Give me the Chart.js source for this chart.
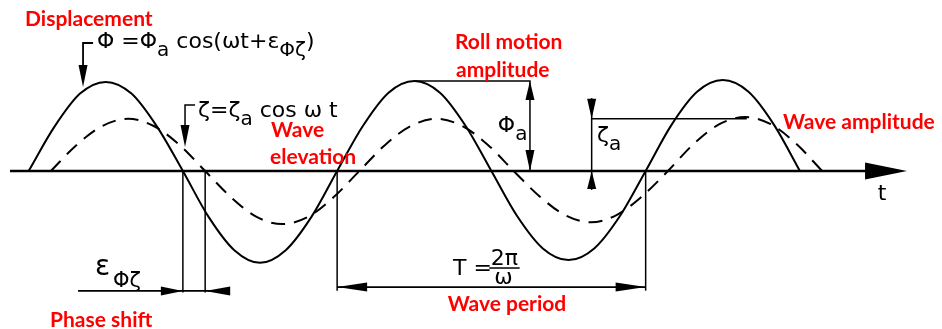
<!DOCTYPE html>
<html>
<head>
<meta charset="utf-8">
<title>Roll motion and wave elevation</title>
<script src="https://cdn.jsdelivr.net/npm/chart.js@4.4.1/dist/chart.umd.min.js"></script>
<style>
  html, body { margin: 0; padding: 0; background: #fff; }
  #wrap { width: 942px; height: 329px; }
</style>
</head>
<body>
<div id="wrap"><canvas id="chart" width="942" height="329"></canvas></div>
<script>
// --- DATA ---
// phase ωt in degrees, displacement in units of the roll amplitude Φa
const rollPhase = [-116, -86, -56, -26, 4, 34, 64, 94, 124, 154, 184, 214, 244, 274, 304, 334,
                   364, 394, 424, 454, 484, 514, 544, 574, 604, 634, 664, 694, 724, 754, 784];
const rollDisp = [0, 0.49, 0.86, 0.99, 0.86, 0.49, 0, -0.51, -0.88, -1.02, -0.88, -0.51, 0,
                  0.5, 0.87, 1.0, 0.87, 0.5, 0, -0.5, -0.86, -0.99, -0.86, -0.5, 0,
                  0.51, 0.88, 1.01, 0.88, 0.51, 0];

const wavePhase = [-90, -60, -30, 0, 30, 60, 90, 120, 150, 180, 210, 240, 270, 300, 330, 360,
                   390, 420, 450, 480, 510, 540, 570, 600, 630, 660, 690, 720, 750, 780, 810];
const waveElev = [0, 0.29, 0.5, 0.58, 0.5, 0.29, 0, -0.29, -0.51, -0.59, -0.51, -0.29, 0,
                  0.29, 0.5, 0.58, 0.5, 0.29, 0, -0.28, -0.49, -0.57, -0.49, -0.28, 0,
                  0.3, 0.52, 0.6, 0.52, 0.3, 0];

const phaseLag = 26;        // ε_Φζ, degrees
const rollAmp = 1.0;        // Φa
const waveAmp = 0.58;       // ζa

// --- STYLE ---
const RED = '#ff0000';
const INK = '#000000';
const RED_FONT = '700 21px Lato';
const MATH_FONT = '22px "DejaVu Sans"';
const SUB_FONT = '20px "DejaVu Sans"';

const toPoints = (xs, ys) => xs.map((x, i) => ({ x, y: ys[i] }));

// filled arrow head, tip at (tx, ty), pointing along (dx, dy)
const arrowHead = (ctx, tx, ty, dx, dy, len, half) => {
    const bx = tx - dx * len, by = ty - dy * len;
    ctx.beginPath();
    ctx.moveTo(tx, ty);
    ctx.lineTo(bx - dy * half, by + dx * half);
    ctx.lineTo(bx + dy * half, by - dx * half);
    ctx.closePath();
    ctx.fill();
};

const line = (ctx, pts, width) => {
    ctx.lineWidth = width;
    ctx.beginPath();
    ctx.moveTo(pts[0][0], pts[0][1]);
    pts.slice(1).forEach(p => ctx.lineTo(p[0], p[1]));
    ctx.stroke();
};

// text made of runs, strings are normal and {s: ...} are subscripts
const drawRuns = (ctx, x, y, runs) => {
    let cx = x;
    runs.forEach(r => {
        const sub = typeof r !== 'string';
        ctx.font = sub ? SUB_FONT : MATH_FONT;
        const t = sub ? r.s : r;
        ctx.fillText(t, cx, y + (sub ? 8 : 0));
        cx += ctx.measureText(t).width;
    });
};

const annotations = {
    id: 'annotations',
    afterDatasetsDraw(chart) {
        const { ctx } = chart;
        const X = v => chart.scales.x.getPixelForValue(v);
        const Y = v => chart.scales.y.getPixelForValue(v);
        ctx.save();
        ctx.strokeStyle = INK;
        ctx.fillStyle = INK;
        ctx.lineCap = 'butt';

        // time axis with arrow
        line(ctx, [[X(-137.7), Y(0)], [X(870), Y(0)]], 2.5);
        arrowHead(ctx, X(909), Y(0), 1, 0, 42, 8.5);

        // phase shift dimension
        const down1 = 90 - phaseLag, down2 = 90;
        line(ctx, [[X(down1), Y(0)], [X(down1), Y(-1.35)]], 1.5);
        line(ctx, [[X(down2), Y(0)], [X(down2), Y(-1.35)]], 1.5);
        line(ctx, [[X(-58.3), Y(-1.333)], [X(119), Y(-1.333)]], 1.8);
        arrowHead(ctx, X(down1), Y(-1.333), 1, 0, 22, 4.5);
        arrowHead(ctx, X(down2), Y(-1.333), -1, 0, 25, 4.5);

        // wave period dimension
        const up1 = 270 - phaseLag, up2 = 630 - phaseLag;
        line(ctx, [[X(up1), Y(0)], [X(up1), Y(-1.33)]], 1.5);
        line(ctx, [[X(up2), Y(0)], [X(up2), Y(-1.33)]], 1.5);
        line(ctx, [[X(up1), Y(-1.29)], [X(up2), Y(-1.29)]], 1.8);
        arrowHead(ctx, X(up1), Y(-1.29), -1, 0, 30, 4.5);
        arrowHead(ctx, X(up2), Y(-1.29), 1, 0, 30, 4.5);

        // roll amplitude Φa
        const rollPeak = 360 - phaseLag;
        line(ctx, [[X(rollPeak), Y(rollAmp)], [X(469), Y(rollAmp)], [X(469), Y(0)]], 1.5);
        arrowHead(ctx, X(469), Y(rollAmp), 0, -1, 19, 4.5);
        arrowHead(ctx, X(469), Y(0), 0, 1, 21, 4.5);

        // wave amplitude ζa
        line(ctx, [[X(541), Y(waveAmp)], [X(722), Y(waveAmp)]], 1.5);
        line(ctx, [[X(541), Y(0.81)], [X(541), Y(-0.21)]], 1.5);
        arrowHead(ctx, X(541), Y(waveAmp), 0, 1, 20, 4.5);
        arrowHead(ctx, X(541), Y(0), 0, -1, 18, 4.5);

        // leaders to the curve formulas
        line(ctx, [[X(-40.8), Y(1.422)], [X(-52.5), Y(1.422)], [X(-52.5), Y(1.0)]], 1.8);
        arrowHead(ctx, X(-52.5), Y(0.933), 0, 1, 22, 4.5);
        line(ctx, [[X(78.2), Y(0.733)], [X(66.5), Y(0.733)], [X(66.5), Y(0.33)]], 1.5);
        arrowHead(ctx, X(66.5), Y(0.267), 0, 1, 22, 4.5);

        // formulas and symbols
        ctx.textBaseline = 'alphabetic';
        ctx.textAlign = 'left';
        drawRuns(ctx, X(-36.2), Y(1.367), ['Φ =Φ', { s: 'a' }, ' cos(ωt+ε', { s: 'Φζ' }, ')']);
        drawRuns(ctx, X(81.7), Y(0.6), ['ζ=ζ', { s: 'a' }, ' cos ω t']);
        drawRuns(ctx, X(431.5), Y(0.433), ['Φ', { s: 'a' }]);
        drawRuns(ctx, X(547.3), Y(0.322), ['ζ', { s: 'a' }]);

        ctx.font = '28px "DejaVu Sans"';
        ctx.fillText('ε', X(-38.5), Y(-1.156));
        ctx.font = '21px "DejaVu Sans"';
        ctx.fillText('Φζ', X(-17.5), Y(-1.29));

        ctx.font = MATH_FONT;
        ctx.fillText('T =', X(379.2), Y(-1.156));
        ctx.textAlign = 'center';
        ctx.fillText('2π', X(439), Y(-1.044));
        ctx.fillText('ω', X(438), Y(-1.256));
        line(ctx, [[X(421.5), Y(-1.078)], [X(457), Y(-1.078)]], 1.5);
        ctx.font = '22px "DejaVu Sans"';
        ctx.fillText('t', X(879.8), Y(-0.322));

        // red captions
        ctx.fillStyle = RED;
        ctx.font = RED_FONT;
        ctx.textBaseline = 'middle';
        ctx.textAlign = 'left';
        ctx.fillText('Displacement', X(-120.2), Y(1.689));
        ctx.fillText('Roll motion', X(381.6), Y(1.433));
        ctx.fillText('amplitude', X(382.7), Y(1.122));
        ctx.fillText('Wave', X(166.9), Y(0.456));
        ctx.fillText('elevation', X(165.7), Y(0.156));
        ctx.fillText('Wave amplitude', X(764.3), Y(0.544));
        ctx.fillText('Phase shift', X(-91.0), Y(-1.656));
        ctx.textAlign = 'center';
        ctx.fillText('Wave period', X(442.2), Y(-1.478));
        ctx.restore();
    }
};

new Chart(document.getElementById('chart'), {
    type: 'line',
    data: {
        datasets: [{
            label: 'Φ',
            data: toPoints(rollPhase, rollDisp),
            borderColor: INK,
            borderWidth: 2,
            pointRadius: 0,
            cubicInterpolationMode: 'monotone',
            fill: false
        }, {
            label: 'ζ',
            data: toPoints(wavePhase, waveElev),
            borderColor: INK,
            borderWidth: 2,
            borderDash: [14, 9],
            pointRadius: 0,
            cubicInterpolationMode: 'monotone',
            fill: false
        }]
    },
    options: {
        responsive: false,
        animation: false,
        layout: { padding: 0 },
        plugins: { legend: { display: false }, tooltip: { enabled: false } },
        scales: {
            x: { type: 'linear', display: false, min: -149.4, max: 949.8 },
            y: { type: 'linear', display: false, min: -1.7556, max: 1.9 }
        }
    },
    plugins: [annotations]
});
</script>
</body>
</html>
